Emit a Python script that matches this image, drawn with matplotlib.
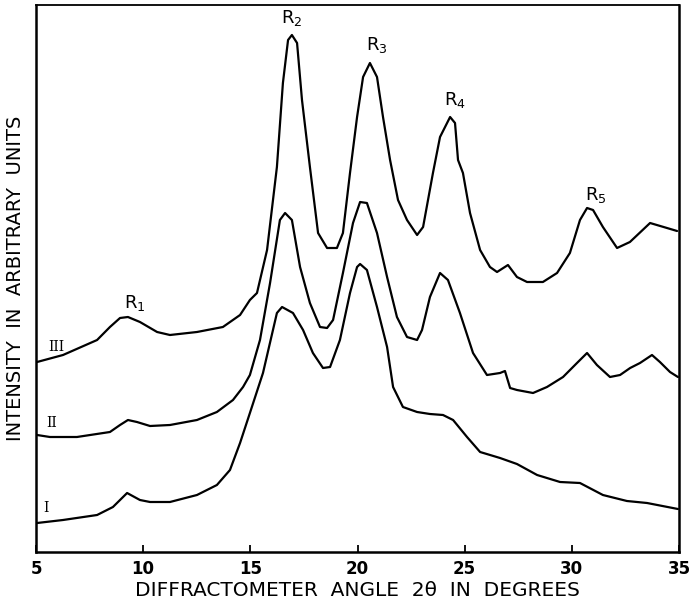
import matplotlib
matplotlib.use("Agg")
import matplotlib.pyplot as plt

# Diffractometer angle 2-theta (degrees) and intensity (arbitrary units)
x_I = [5.05, 6.26, 7.85, 8.59, 9.25, 9.85, 10.32, 11.25, 12.51, 13.44, 14.05, 14.52,
       14.98, 15.59, 16.24, 16.48, 16.99, 17.46, 17.92, 18.39, 18.72, 19.18, 19.65,
       19.98, 20.12, 20.44, 20.91, 21.38, 21.66, 22.12, 22.78, 23.38, 23.99, 24.46,
       25.11, 25.72, 26.65, 27.44, 28.38, 29.45, 30.38, 31.45, 32.57, 33.51, 34.95]
y_I = [29, 32, 37, 45, 59, 52, 50, 50, 57, 67, 82, 109,
       139, 179, 239, 245, 239, 222, 199, 184, 185, 212, 259,
       285, 288, 282, 245, 205, 165, 145, 140, 138, 137, 132,
       115, 100, 94, 88, 77, 70, 69, 57, 51, 49, 43]

x_II = [5.05, 5.65, 6.91, 8.45, 8.92, 9.29, 9.71, 10.32, 11.25, 12.51, 13.44, 14.19,
        14.66, 14.98, 15.45, 15.92, 16.38, 16.62, 16.94, 17.32, 17.78, 18.25, 18.58,
        18.86, 19.32, 19.79, 20.12, 20.44, 20.91, 21.38, 21.84, 22.31, 22.78, 23.01,
        23.38, 23.85, 24.22, 24.78, 25.39, 26.04, 26.65, 26.88, 27.12, 27.44, 28.19,
        28.84, 29.59, 30.24, 30.71, 31.17, 31.78, 32.25, 32.72, 33.18, 33.74, 34.11,
        34.58, 34.95]
y_II = [117, 115, 115, 120, 127, 132, 130, 126, 127, 132, 140, 152,
        165, 177, 212, 269, 332, 339, 332, 285, 249, 225, 224,
        232, 279, 329, 350, 349, 319, 275, 235, 215, 212, 222,
        255, 279, 272, 239, 199, 177, 179, 181, 164, 162, 159,
        165, 175, 189, 199, 187, 175, 177, 184, 189, 197, 190,
        180, 175]

x_III = [5.05, 6.26, 7.85, 8.45, 8.92, 9.29, 9.85, 10.65, 11.25, 12.51, 13.72, 14.52,
         14.98, 15.31, 15.78, 16.24, 16.52, 16.76, 16.94, 17.18, 17.41, 17.78, 18.16,
         18.58, 19.04, 19.32, 19.65, 19.98, 20.26, 20.58, 20.91, 21.19, 21.52, 21.89,
         22.31, 22.78, 23.06, 23.52, 23.85, 24.32, 24.55, 24.69, 24.92, 25.25, 25.72,
         26.18, 26.51, 27.02, 27.44, 27.91, 28.65, 29.31, 29.91, 30.38, 30.71, 30.99,
         31.45, 32.11, 32.71, 33.65, 34.44, 34.91]
y_III = [190, 197, 212, 225, 234, 235, 230, 220, 217, 220, 225, 237,
         252, 259, 302, 385, 469, 512, 517, 509, 452, 385, 319,
         304, 304, 319, 379, 435, 475, 489, 475, 435, 392, 352,
         332, 317, 325, 379, 415, 435, 429, 392, 379, 339, 302,
         285, 280, 287, 275, 270, 270, 279, 299, 332, 344, 342,
         325, 304, 310, 329, 324, 321]

curve_names = ["I", "II", "III"]
peak_names = ["R_1", "R_2", "R_3", "R_4", "R_5"]
xticks = [5, 10, 15, 20, 25, 30, 35]

fig = plt.figure(figsize=(6.94, 6.06), dpi=100)
ax = fig.add_axes([36 / 694, 1 - 552 / 606, 643 / 694, 547 / 606])

for xs, ys in [(x_I, y_I), (x_II, y_II), (x_III, y_III)]:
    ax.plot(xs, ys, color="black", lw=1.6, solid_joinstyle="round", solid_capstyle="round")

ax.set_xlim(5, 35)
ax.set_ylim(0, 547)
ax.set_xticks(xticks)
ax.set_xticklabels([str(t) for t in xticks], fontsize=12, fontweight="bold")
ax.set_yticks([])
ax.tick_params(axis="x", direction="in", length=5, width=1.3, pad=6)
for s in ["left", "bottom", "right"]:
    ax.spines[s].set_linewidth(1.8)
ax.spines["top"].set_linewidth(1.3)

ax.set_xlabel("DIFFRACTOMETER  ANGLE  2\u03b8  IN  DEGREES", fontsize=14.5, labelpad=2)
ax.set_ylabel("INTENSITY  IN  ARBITRARY  UNITS", fontsize=14, labelpad=8)

# curve labels
label_pos = [(5.33, 44), (5.47, 129), (5.56, 205)]
for name, (lx, ly) in zip(curve_names, label_pos):
    ax.text(lx, ly, name, family="DejaVu Serif", fontsize=10, ha="left", va="center")

# peak labels
peak_pos = [(9.62, 249), (16.94, 534), (20.91, 507), (24.55, 452), (31.13, 357)]
for name, (px, py) in zip(peak_names, peak_pos):
    ax.text(px, py, r"$\mathregular{%s}$" % name, fontsize=13, ha="center", va="center")

fig.savefig("out.png", dpi=100)
